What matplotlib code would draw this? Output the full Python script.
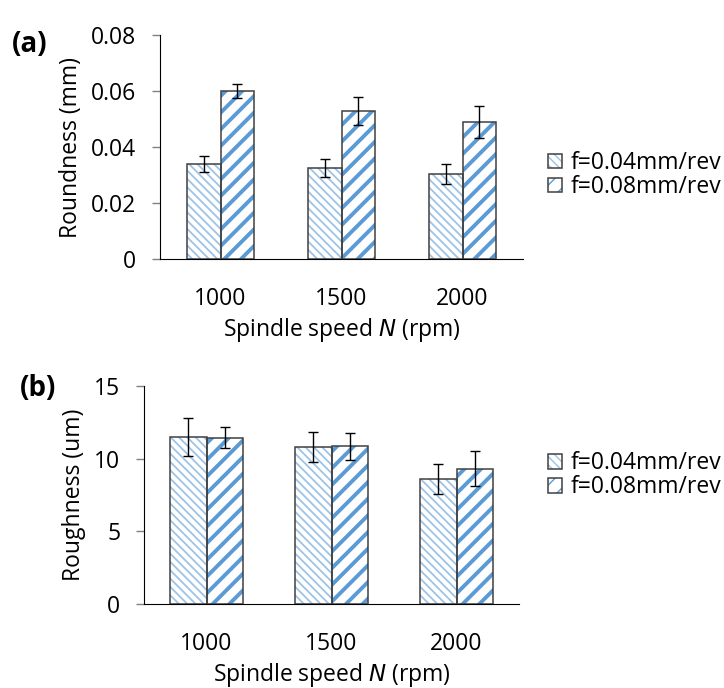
import matplotlib
matplotlib.use("Agg")
import matplotlib.pyplot as plt
import numpy as np
from matplotlib.patches import Patch
from matplotlib.legend_handler import HandlerTuple

speeds = ["1000", "1500", "2000"]
series = ["f=0.04mm/rev", "f=0.08mm/rev"]

round_f04 = [0.0339, 0.0324, 0.0303]
round_f04_err = [0.0030, 0.0032, 0.0035]
round_f08 = [0.0600, 0.0529, 0.0490]
round_f08_err = [0.0024, 0.0050, 0.0058]

rough_f04 = [11.5, 10.8, 8.6]
rough_f04_err = [1.3, 1.05, 1.05]
rough_f08 = [11.45, 10.85, 9.3]
rough_f08_err = [0.75, 0.95, 1.2]

plt.rcParams['font.family'] = ['Open Sans', 'DejaVu Sans']
plt.rcParams['font.size'] = 16.5

light = "#9DC3E6"
dark = "#5B9BD5"
edge = "#404040"
hatches = ["\\\\\\\\", "//"]
hcolors = [light, dark]
hwidths = [1.3, 2.8]

fig = plt.figure(figsize=(7.24, 6.88), dpi=100)


def hatched_bars(ax, x, h, err, w, k):
    with plt.rc_context({'hatch.linewidth': hwidths[k]}):
        bars = ax.bar(x, h, w, color="white", edgecolor=hcolors[k],
                      hatch=hatches[k], linewidth=0, zorder=2)
    for b in bars:
        if hasattr(b, "set_hatch_linewidth"):
            b.set_hatch_linewidth(hwidths[k])
    ax.bar(x, h, w, fill=False, edgecolor=edge, linewidth=1.1, zorder=3)
    ax.errorbar(x, h, yerr=err, fmt="none", ecolor="black", elinewidth=1,
                capsize=3.5, capthick=1, zorder=4)


def setup(ax, ylabel, yticks, yfmt, leg_x, leg_y):
    ax.spines['top'].set_visible(False)
    ax.spines['right'].set_visible(False)
    ax.spines['left'].set_color("black")
    ax.spines['bottom'].set_color("black")
    ax.set_xlim(-0.5, 2.5)
    ax.set_ylim(yticks[0], yticks[-1])
    ax.set_yticks(yticks)
    ax.set_yticklabels([yfmt(v) for v in yticks])
    ax.set_xticks(range(3))
    ax.set_xticklabels(speeds)
    ax.tick_params(axis='x', length=0, pad=20)
    ax.tick_params(axis='y', length=6, width=1, color="#808080", pad=11)
    ax.set_ylabel(ylabel, labelpad=6)
    ax.set_xlabel("Spindle speed $\\mathit{N}$ (rpm)", labelpad=4)
    handles = []
    for k in range(2):
        with plt.rc_context({'hatch.linewidth': hwidths[k]}):
            p1 = Patch(facecolor="white", edgecolor=hcolors[k], hatch=hatches[k], linewidth=0)
        if hasattr(p1, "set_hatch_linewidth"):
            p1.set_hatch_linewidth(hwidths[k])
        p2 = Patch(fill=False, edgecolor=edge, linewidth=1.1)
        handles.append((p1, p2))
    ax.legend(handles, series, handler_map={tuple: HandlerTuple(ndivide=1)},
              loc="center left", bbox_to_anchor=(leg_x, leg_y), frameon=False,
              borderpad=0, borderaxespad=0,
              handlelength=0.6, handleheight=0.6, handletextpad=0.4,
              labelspacing=0.0, fontsize=16.5)


x = np.arange(3)

ax1 = fig.add_axes([160 / 724, 1 - 259 / 688, 363 / 724, 224 / 688])
hatched_bars(ax1, x - 0.14, round_f04, round_f04_err, 0.28, 0)
hatched_bars(ax1, x + 0.14, round_f08, round_f08_err, 0.28, 1)
setup(ax1, "Roundness (mm)", [0, 0.02, 0.04, 0.06, 0.08],
      lambda v: "0" if v == 0 else "%.2f" % v, 1.069, 0.375)

ax2 = fig.add_axes([144 / 724, 1 - 604 / 688, 375 / 724, 218 / 688])
hatched_bars(ax2, x - 0.145, rough_f04, rough_f04_err, 0.29, 0)
hatched_bars(ax2, x + 0.145, rough_f08, rough_f08_err, 0.29, 1)
setup(ax2, "Roughness (um)", [0, 5, 10, 15], lambda v: "%d" % v, 1.077, 0.59)

fig.text(12 / 724, 1 - 44 / 688, "(a)", fontsize=20, fontweight="bold", va="center")
fig.text(20 / 724, 1 - 388 / 688, "(b)", fontsize=20, fontweight="bold", va="center")

fig.savefig("out.png", dpi=100)
